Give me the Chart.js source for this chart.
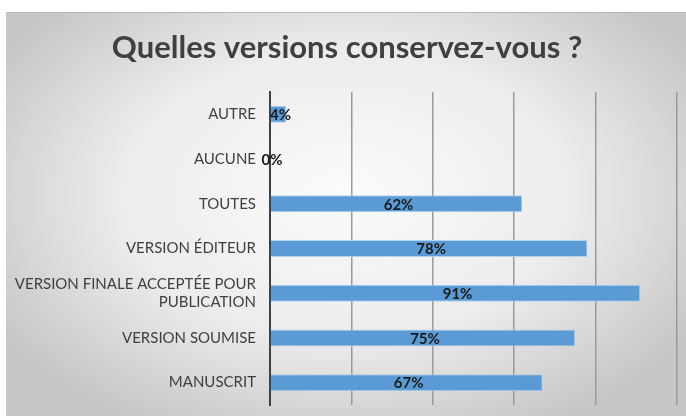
<!DOCTYPE html>
<html>
<head>
<meta charset="utf-8">
<script src="https://cdn.jsdelivr.net/npm/chart.js@4"></script>
<style>
  body { margin: 0; background: #fff; }
  #bg {
    position: absolute; left: 6px; top: 12px; width: 680px; height: 403px;
    background: radial-gradient(ellipse 60% 65% at 50% 45%, #fbfbfb 0%, #ececec 55%, #c6c6c6 100%);
    border-top: 1px solid #b8b8b8;
  }
  #chart { position: absolute; left: 0; top: 0; }
</style>
</head>
<body>
<div id="bg"></div>
<canvas id="chart" width="686" height="419"></canvas>
<script>
var categories = ['AUTRE', 'AUCUNE', 'TOUTES', 'VERSION ÉDITEUR',
  ['VERSION FINALE ACCEPTÉE POUR', 'PUBLICATION'], 'VERSION SOUMISE', 'MANUSCRIT'];
var percentages = [4, 0, 62, 78, 91, 75, 67];
var xTicks = [0, 20, 40, 60, 80, 100];
var titleText = 'Quelles versions conservez-vous ?';

// draws the % value in the middle of each bar
var barLabels = {
  id: 'barLabels',
  afterDatasetsDraw: function(chart) {
    var ctx = chart.ctx;
    var meta = chart.getDatasetMeta(0);
    ctx.save();
    ctx.font = 'bold 15px Lato';
    ctx.fillStyle = '#1a1a1a';
    ctx.textAlign = 'center';
    ctx.textBaseline = 'middle';
    meta.data.forEach(function(bar, i) {
      var cx = (bar.x + bar.base) / 2;
      ctx.fillText(percentages[i] + '%', cx + 2, bar.y + 1);
    });
    ctx.restore();
  }
};

// title centred on the grey box rather than the canvas
var boxTitle = {
  id: 'boxTitle',
  afterDraw: function(chart) {
    var ctx = chart.ctx;
    ctx.save();
    ctx.font = 'bold 31px Lato';
    ctx.fillStyle = '#404040';
    ctx.textAlign = 'center';
    ctx.textBaseline = 'middle';
    ctx.fillText(titleText, 347, 48);
    ctx.restore();
  }
};

var chart = new Chart(document.getElementById('chart'), {
  type: 'bar',
  data: {
    labels: categories,
    datasets: [{
      data: percentages,
      backgroundColor: '#5b9bd5',
      borderColor: '#b4d3ee',
      borderWidth: 1,
      barPercentage: 0.38,
      categoryPercentage: 1
    }]
  },
  options: {
    indexAxis: 'y',
    responsive: false,
    animation: false,
    layout: { padding: { left: 0, right: 9, top: 92, bottom: 14 } },
    plugins: {
      legend: { display: false },
      tooltip: { enabled: false },
      title: { display: false }
    },
    scales: {
      x: {
        min: 0,
        max: 100,
        afterBuildTicks: function(scale) {
          scale.ticks = xTicks.map(function(v) { return { value: v }; });
        },
        afterFit: function(scale) {
          scale.height = 0;
          scale.paddingLeft = 0;
          scale.paddingRight = 0;
        },
        ticks: { display: false },
        grid: { color: '#9a9a9a', lineWidth: 1.5, drawTicks: false },
        border: { display: false }
      },
      y: {
        afterFit: function(scale) {
          scale.width = 270;
          scale.paddingTop = 0;
          scale.paddingBottom = 0;
        },
        ticks: {
          color: '#404040',
          font: { family: 'Lato', size: 15 },
          padding: 14
        },
        grid: { display: false, drawTicks: false },
        border: { display: true, color: '#404040', width: 2 }
      }
    }
  },
  plugins: [barLabels, boxTitle]
});
</script>
</body>
</html>
